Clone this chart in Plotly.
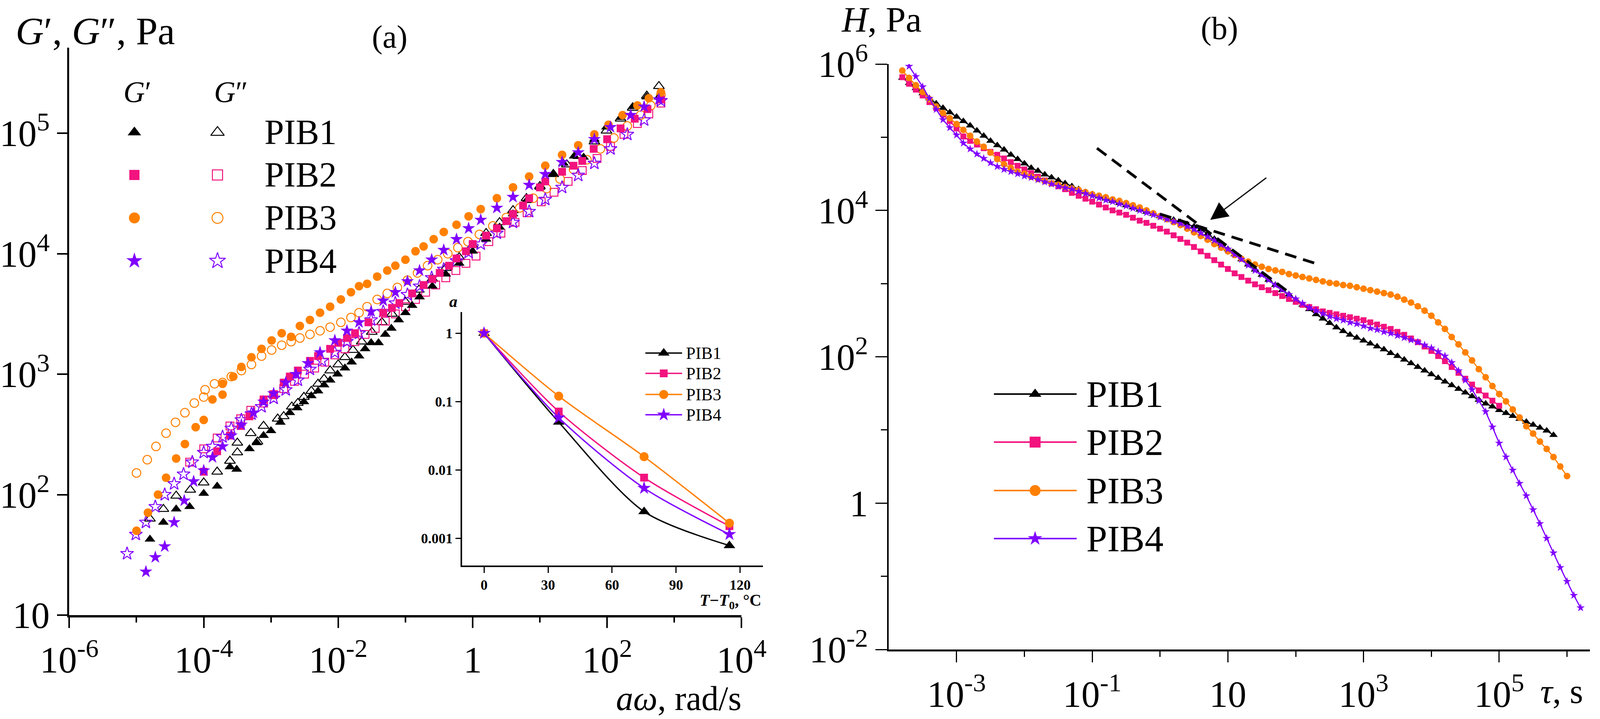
import numpy as np
import plotly.graph_objects as go

W, H = 4274, 1841
FONT = "Liberation Serif"

BLACK = "#000000"
PINK = "#F2137E"
ORANGE = "#FF8000"
PURPLE = "#8000FF"

samples = ["PIB1", "PIB2", "PIB3", "PIB4"]
colors = [BLACK, PINK, ORANGE, PURPLE]

# ---------------- panel (a): G', G'' vs a*omega (log10 values)
w_gp_pib1 = [-4.80, -4.60, -4.41, -4.21, -4.00, -3.80, -3.61, -3.51, -3.32, -3.21, -3.11, -3.00,
             -2.86, -2.72, -2.61, -2.51, -2.40, -2.30, -2.21, -2.12, -2.01, -1.90, -1.80, -1.69,
             -1.60, -1.51, -1.40, -1.30, -1.21, -1.10, -1.00, -0.90, -0.79, -0.60, -0.40, -0.20,
             0.00, 0.20, 0.40, 0.60, 0.80, 1.00, 1.20, 1.35, 1.51, 1.65, 1.81, 1.99, 2.20, 2.38,
             2.59, 2.77]
gp_pib1 = [1.63, 1.77, 1.88, 1.90, 2.01, 2.07, 2.23, 2.21, 2.38, 2.43, 2.49, 2.53,
           2.60, 2.68, 2.72, 2.77, 2.82, 2.86, 2.91, 2.95, 3.00, 3.05, 3.10, 3.15,
           3.21, 3.26, 3.26, 3.33, 3.38, 3.45, 3.51, 3.57, 3.64, 3.73, 3.83, 3.92,
           4.02, 4.12, 4.22, 4.33, 4.44, 4.55, 4.66, 4.75, 4.81, 4.80, 4.95, 5.05, 5.13, 5.22,
           5.30, 5.30]
w_gpp_pib1 = [-4.80, -4.60, -4.41, -4.20, -4.00, -3.80, -3.61, -3.50, -3.50, -3.30, -3.20, -3.11,
              -2.90, -2.81, -2.69, -2.60, -2.51, -2.40, -2.30, -2.21, -2.12, -2.00, -1.90, -1.78,
              -1.65, -1.50, -1.35, -1.20, -1.00, -0.80, -0.60, -0.40, -0.20, 0.00, 0.20, 0.40,
              0.60, 0.80, 1.00, 1.20, 1.40, 1.57, 1.81, 1.99, 2.20, 2.38, 2.59, 2.77]
gpp_pib1 = [1.80, 1.88, 1.99, 2.04, 2.10, 2.19, 2.28, 2.35, 2.43, 2.51, 2.44, 2.57,
            2.63, 2.65, 2.73, 2.76, 2.81, 2.86, 2.92, 2.96, 3.03, 3.08, 3.14, 3.20,
            3.27, 3.35, 3.43, 3.50, 3.60, 3.70, 3.79, 3.88, 3.97, 4.07, 4.17, 4.26,
            4.36, 4.46, 4.56, 4.66, 4.74, 4.81, 4.93, 5.02, 5.12, 5.21, 5.31, 5.39]

w_gp_pib2 = [-4.00, -3.80, -3.61, -3.45, -3.32, -3.11, -2.96, -2.81, -2.72, -2.60, -2.42, -2.30,
             -2.12, -2.00, -1.87, -1.75, -1.55, -1.33, -1.20, -1.09, -0.90, -0.73, -0.60, -0.49,
             -0.35, -0.24, -0.10, 0.00, 0.20, 0.36, 0.50, 0.60, 0.75, 0.84, 1.00, 1.08, 1.33,
             1.50, 1.63, 1.80, 2.00, 2.20, 2.41, 2.60, 2.80]
gp_pib2 = [2.19, 2.36, 2.49, 2.57, 2.65, 2.79, 2.83, 2.93, 2.98, 3.03, 3.11, 3.15,
           3.21, 3.26, 3.30, 3.34, 3.43, 3.51, 3.55, 3.59, 3.67, 3.74, 3.79, 3.84,
           3.90, 3.96, 4.02, 4.08, 4.15, 4.21, 4.27, 4.33, 4.40, 4.46, 4.55, 4.60, 4.68,
           4.73, 4.77, 4.87, 4.95, 5.04, 5.12, 5.20, 5.28]
w_gpp_pib2 = [-4.21, -4.00, -3.80, -3.61, -3.45, -3.30, -3.11, -2.96, -2.81, -2.65, -2.50, -2.35,
              -2.20, -2.05, -1.90, -1.75, -1.60, -1.45, -1.30, -1.15, -1.00, -0.85, -0.70, -0.55,
              -0.40, -0.25, -0.10, 0.05, 0.24, 0.42, 0.63, 0.81, 1.02, 1.21, 1.42, 1.63, 1.85,
              2.05, 2.25, 2.45, 2.62, 2.80]
gpp_pib2 = [2.27, 2.38, 2.47, 2.57, 2.63, 2.70, 2.76, 2.83, 2.88, 2.94, 3.00, 3.05,
            3.10, 3.16, 3.21, 3.27, 3.33, 3.38, 3.44, 3.50, 3.56, 3.62, 3.68, 3.74,
            3.80, 3.86, 3.92, 3.98, 4.10, 4.17, 4.26, 4.34, 4.43, 4.51, 4.60, 4.69, 4.79,
            4.89, 4.99, 5.08, 5.16, 5.25]

w_gp_pib3 = [-5.00, -4.83, -4.68, -4.56, -4.41, -4.28, -4.12, -4.00, -3.87, -3.72, -3.72, -3.56,
             -3.44, -3.29, -3.14, -2.99, -2.84, -2.70, -2.57, -2.42, -2.27, -2.12, -1.96, -1.81,
             -1.69, -1.57, -1.42, -1.27, -1.15, -1.00, -0.85, -0.73, -0.58, -0.43, -0.24, -0.06,
             0.12, 0.36, 0.60, 0.84, 1.08, 1.33, 1.57, 1.81, 2.02, 2.23, 2.45, 2.62, 2.80]
gp_pib3 = [1.70, 1.85, 2.00, 2.14, 2.30, 2.42, 2.56, 2.62, 2.79, 2.83, 2.92, 2.98,
           3.06, 3.14, 3.21, 3.28, 3.34, 3.31, 3.40, 3.45, 3.51, 3.56, 3.62, 3.68,
           3.73, 3.75, 3.81, 3.86, 3.90, 3.95, 4.02, 4.06, 4.12, 4.18, 4.24, 4.31,
           4.37, 4.46, 4.55, 4.64, 4.73, 4.82, 4.90, 4.99, 5.07, 5.15, 5.23, 5.29, 5.34]
w_gpp_pib3 = [-5.00, -4.84, -4.71, -4.56, -4.42, -4.28, -4.14, -4.00, -3.98, -3.84, -3.72, -3.59,
              -3.44, -3.29, -3.14, -2.99, -2.84, -2.70, -2.57, -2.42, -2.27, -2.12, -1.96, -1.81,
              -1.69, -1.57, -1.42, -1.27, -1.12, -0.97, -0.82, -0.67, -0.52, -0.37, -0.22, -0.07,
              0.10, 0.30, 0.50, 0.70, 0.90, 1.10, 1.30, 1.50, 1.70, 1.90, 2.10, 2.30, 2.50, 2.65,
              2.80]
gpp_pib3 = [2.18, 2.29, 2.40, 2.51, 2.60, 2.68, 2.76, 2.81, 2.87, 2.92, 2.93, 2.98,
            3.03, 3.08, 3.15, 3.20, 3.24, 3.27, 3.30, 3.33, 3.36, 3.39, 3.43, 3.47,
            3.51, 3.56, 3.62, 3.67, 3.72, 3.78, 3.84, 3.90, 3.95, 4.00, 4.05, 4.10,
            4.16, 4.23, 4.30, 4.38, 4.46, 4.54, 4.62, 4.70, 4.78, 4.87, 4.96, 5.06, 5.15, 5.23,
            5.32]

w_gp_pib4 = [-4.86, -4.72, -4.58, -4.44, -4.29, -4.15, -4.00, -3.87, -3.72, -3.59, -3.44, -3.26,
             -3.11, -2.96, -2.78, -2.63, -2.45, -2.27, -2.05, -1.87, -1.69, -1.51, -1.33, -1.15,
             -0.97, -0.79, -0.61, -0.43, -0.24, -0.06, 0.12, 0.36, 0.60, 0.84, 1.08, 1.33, 1.57,
             1.81, 2.05, 2.35, 2.55, 2.77]
gp_pib4 = [1.36, 1.48, 1.57, 1.77, 1.95, 2.11, 2.20, 2.31, 2.40, 2.49, 2.58, 2.68,
           2.77, 2.84, 2.93, 3.00, 3.09, 3.18, 3.28, 3.36, 3.43, 3.52, 3.61, 3.68,
           3.77, 3.86, 3.95, 4.03, 4.12, 4.21, 4.28, 4.38, 4.47, 4.57, 4.66, 4.76, 4.84,
           4.95, 5.05, 5.15, 5.22, 5.28]
w_gpp_pib4 = [-5.14, -5.01, -4.86, -4.72, -4.58, -4.44, -4.30, -4.17, -4.00, -3.87, -3.72, -3.59,
              -3.44, -3.29, -3.14, -2.96, -2.78, -2.60, -2.42, -2.24, -2.05, -1.87, -1.69, -1.51,
              -1.33, -1.15, -0.97, -0.79, -0.61, -0.43, -0.24, -0.06, 0.12, 0.36, 0.60, 0.84,
              1.08, 1.33, 1.57, 1.81, 2.05, 2.30, 2.55, 2.80]
gpp_pib4 = [1.51, 1.67, 1.77, 1.90, 2.00, 2.09, 2.17, 2.27, 2.35, 2.40, 2.48, 2.55,
            2.62, 2.67, 2.73, 2.80, 2.87, 2.95, 3.04, 3.11, 3.18, 3.27, 3.34, 3.45,
            3.52, 3.59, 3.66, 3.73, 3.80, 3.87, 3.94, 4.01, 4.08, 4.17, 4.26, 4.35,
            4.45, 4.55, 4.65, 4.75, 4.87, 4.99, 5.11, 5.27]

# ---------------- inset: shift factor a vs T - T0
shift_dt = [0, 35, 75, 115]
a_pib1 = [1.0, 0.050, 0.00245, 0.00078]
a_pib2 = [1.0, 0.0714, 0.0077, 0.0015]
a_pib3 = [1.0, 0.12, 0.0156, 0.00166]
a_pib4 = [1.0, 0.058, 0.0054, 0.00114]

# ---------------- panel (b): relaxation spectrum H(tau), log10 values
tau_exp = [-3.8, -3.7, -3.6, -3.5, -3.4, -3.3, -3.2, -3.1, -3.0,
           -2.9, -2.8, -2.7, -2.6, -2.5, -2.4, -2.3, -2.2, -2.1, -2.0,
           -1.9, -1.8, -1.7, -1.6, -1.5, -1.4, -1.3, -1.2, -1.1, -1.0,
           -0.9, -0.8, -0.7, -0.6, -0.5, -0.4, -0.3, -0.2, -0.1, 0.0,
           0.1, 0.2, 0.3, 0.4, 0.5, 0.6, 0.7, 0.8, 0.9, 1.0,
           1.1, 1.2, 1.3, 1.4, 1.5, 1.6, 1.7, 1.8, 1.9, 2.0,
           2.1, 2.2, 2.3, 2.4, 2.5, 2.6, 2.7, 2.8, 2.9, 3.0,
           3.1, 3.2, 3.3, 3.4, 3.5, 3.6, 3.7, 3.8, 3.9, 4.0,
           4.1, 4.2, 4.3, 4.4, 4.5, 4.6, 4.7, 4.8, 4.9, 5.0,
           5.1, 5.2, 5.3, 5.4, 5.5, 5.6, 5.7, 5.8, 5.9, 6.0,
           6.1, 6.2]

h_pib1 = [5.81, 5.74, 5.67, 5.60, 5.53, 5.46, 5.40, 5.34, 5.28,
          5.22, 5.16, 5.09, 5.02, 4.95, 4.89, 4.83, 4.76, 4.70, 4.64,
          4.58, 4.54, 4.49, 4.45, 4.41, 4.37, 4.33, 4.29, 4.25, 4.22,
          4.19, 4.16, 4.13, 4.10, 4.07, 4.04, 4.01, 3.98, 3.95, 3.92,
          3.89, 3.87, 3.84, 3.81, 3.78, 3.74, 3.68, 3.61, 3.54, 3.47,
          3.40, 3.33, 3.26, 3.19, 3.12, 3.05, 2.98, 2.91, 2.85, 2.78,
          2.71, 2.65, 2.58, 2.52, 2.46, 2.40, 2.35, 2.30, 2.26, 2.22,
          2.18, 2.14, 2.10, 2.05, 2.01, 1.96, 1.91, 1.86, 1.81, 1.76,
          1.71, 1.66, 1.61, 1.56, 1.51, 1.46, 1.41, 1.36, 1.32, 1.27,
          1.23, 1.19, 1.15, 1.11, 1.07, 1.03, 0.99, 0.93]
h_pib2 = [5.82, 5.73, 5.65, 5.57, 5.48, 5.40, 5.31, 5.22, 5.12,
          5.01, 4.95, 4.90, 4.85, 4.80, 4.76, 4.71, 4.66, 4.61, 4.56,
          4.51, 4.46, 4.41, 4.37, 4.33, 4.29, 4.24, 4.20, 4.16, 4.12,
          4.08, 4.04, 4.00, 3.97, 3.94, 3.90, 3.86, 3.83, 3.79, 3.75,
          3.71, 3.66, 3.61, 3.56, 3.50, 3.44, 3.38, 3.32, 3.26, 3.20,
          3.14, 3.09, 3.04, 2.99, 2.95, 2.91, 2.87, 2.83, 2.79, 2.75,
          2.71, 2.68, 2.65, 2.62, 2.60, 2.58, 2.56, 2.54, 2.52, 2.50,
          2.47, 2.44, 2.41, 2.38, 2.34, 2.30, 2.25, 2.20, 2.14, 2.08,
          2.01, 1.94, 1.86, 1.78, 1.70, 1.62, 1.54, 1.47, 1.40, 1.33]
h_pib3 = [5.91, 5.81, 5.71, 5.62, 5.52, 5.42, 5.33, 5.26, 5.18,
          5.10, 5.02, 4.94, 4.87, 4.79, 4.70, 4.63, 4.58, 4.53, 4.50,
          4.46, 4.43, 4.40, 4.37, 4.35, 4.32, 4.30, 4.28, 4.25, 4.22,
          4.20, 4.18, 4.15, 4.13, 4.10, 4.07, 4.04, 4.00, 3.96, 3.92,
          3.88, 3.84, 3.80, 3.75, 3.70, 3.65, 3.60, 3.54, 3.49, 3.44,
          3.39, 3.34, 3.30, 3.26, 3.23, 3.20, 3.18, 3.16, 3.13, 3.11,
          3.09, 3.07, 3.05, 3.03, 3.01, 3.00, 2.98, 2.97, 2.95, 2.93,
          2.91, 2.89, 2.87, 2.85, 2.82, 2.78, 2.74, 2.69, 2.63, 2.56,
          2.47, 2.38, 2.27, 2.17, 2.06, 1.95, 1.83, 1.72, 1.60, 1.49,
          1.39, 1.28, 1.17, 1.05, 0.95, 0.84, 0.74, 0.63, 0.50, 0.37]
h_pib4 = [5.97, 5.83, 5.69, 5.53, 5.38, 5.24, 5.13, 5.03,
          4.92, 4.84, 4.77, 4.71, 4.65, 4.60, 4.56, 4.53, 4.50, 4.47,
          4.45, 4.42, 4.39, 4.36, 4.33, 4.31, 4.29, 4.26, 4.23, 4.20,
          4.17, 4.14, 4.12, 4.09, 4.06, 4.03, 4.00, 3.97, 3.94, 3.91,
          3.88, 3.85, 3.82, 3.78, 3.74, 3.69, 3.64, 3.59, 3.53, 3.47,
          3.40, 3.33, 3.25, 3.18, 3.12, 3.05, 2.98, 2.92, 2.85, 2.79,
          2.73, 2.67, 2.63, 2.59, 2.55, 2.52, 2.50, 2.47, 2.45, 2.42,
          2.39, 2.37, 2.34, 2.32, 2.29, 2.26, 2.23, 2.20, 2.16, 2.12,
          2.07, 2.01, 1.92, 1.81, 1.68, 1.55, 1.40, 1.25, 1.04, 0.82,
          0.63, 0.45, 0.27, 0.10, -0.09, -0.28, -0.48, -0.68, -0.88, -1.07,
          -1.26, -1.43]
tau_first = [0, 0, 0, 1]  # index in tau_exp where each series starts

# tangent lines (log10 tau, log10 H) and arrow tip
steep_tau = [-0.93, 1.90]
steep_h = [4.85, 2.88]
flat_tau = [0.0, 2.31]
flat_h = [3.95, 3.27]
arrow_tip = (0.74, 3.87)


def fx(px):
    return px / W


def fy(py):
    return 1 - py / H


fig = go.Figure()

# ---- panel (a) scatter
w_gp = [w_gp_pib1, w_gp_pib2, w_gp_pib3, w_gp_pib4]
gp = [gp_pib1, gp_pib2, gp_pib3, gp_pib4]
w_gpp = [w_gpp_pib1, w_gpp_pib2, w_gpp_pib3, w_gpp_pib4]
gpp = [gpp_pib1, gpp_pib2, gpp_pib3, gpp_pib4]
symbols = ["triangle-up", "square", "circle", "star"]
size_a = [24, 20, 22, 25]

for i in range(4):
    fig.add_trace(go.Scatter(
        x=10 ** np.array(w_gpp[i]), y=10 ** np.array(gpp[i]), mode="markers",
        marker=dict(symbol=symbols[i] + "-open", size=size_a[i], color=colors[i],
                    line=dict(width=2.5, color=colors[i])),
        xaxis="x", yaxis="y"))
for i in range(4):
    fig.add_trace(go.Scatter(
        x=10 ** np.array(w_gp[i]), y=10 ** np.array(gp[i]), mode="markers",
        marker=dict(symbol=symbols[i], size=size_a[i], color=colors[i], line=dict(width=0)),
        xaxis="x", yaxis="y"))

# ---- inset
a_vals = [a_pib1, a_pib2, a_pib3, a_pib4]
size_in = [26, 20, 23, 26]
for i in range(4):
    fig.add_trace(go.Scatter(
        x=shift_dt, y=a_vals[i], mode="lines+markers",
        line=dict(color=colors[i], width=3.5, shape="spline", smoothing=0.8),
        marker=dict(symbol=symbols[i], size=size_in[i], color=colors[i]),
        xaxis="x3", yaxis="y3"))

# ---- panel (b)
h_vals = [h_pib1, h_pib2, h_pib3, h_pib4]
size_b = [19, 15, 17, 16]
for i in range(4):
    t = tau_exp[tau_first[i]:tau_first[i] + len(h_vals[i])]
    fig.add_trace(go.Scatter(
        x=10 ** np.array(t), y=10 ** np.array(h_vals[i]), mode="lines+markers",
        line=dict(color=colors[i], width=3),
        marker=dict(symbol=symbols[i], size=size_b[i], color=colors[i]),
        xaxis="x2", yaxis="y2"))

for tt, hh in [(steep_tau, steep_h), (flat_tau, flat_h)]:
    fig.add_trace(go.Scatter(
        x=10 ** np.array(tt), y=10 ** np.array(hh), mode="lines",
        line=dict(color="black", width=7, dash="30px,18px"),
        xaxis="x2", yaxis="y2"))

fig.add_annotation(x=arrow_tip[0], y=arrow_tip[1], xref="x2", yref="y2", text="",
                   showarrow=True, ax=145, ay=-109, arrowhead=2, arrowsize=3,
                   arrowwidth=3, arrowcolor="black")

# ---- legends (drawn on a hidden pixel-space overlay axis)
leg_a_rows = [339, 448, 558, 668]
leg_b_rows = [1009, 1132, 1256, 1379]
leg_in_rows = [904, 956, 1010, 1062]
for i in range(4):
    fig.add_trace(go.Scatter(
        x=[359], y=[leg_a_rows[i]], mode="markers",
        marker=dict(symbol=symbols[i], size=size_a[i] + 6, color=colors[i]),
        xaxis="x4", yaxis="y4"))
    fig.add_trace(go.Scatter(
        x=[581], y=[leg_a_rows[i]], mode="markers",
        marker=dict(symbol=symbols[i] + "-open", size=size_a[i] + 6, color=colors[i],
                    line=dict(width=2.5, color=colors[i])),
        xaxis="x4", yaxis="y4"))
    fig.add_trace(go.Scatter(
        x=[2655, 2876], y=[leg_b_rows[i]] * 2, mode="lines",
        line=dict(color=colors[i], width=4), xaxis="x4", yaxis="y4"))
    fig.add_trace(go.Scatter(
        x=[2765], y=[leg_b_rows[i]], mode="markers",
        marker=dict(symbol=symbols[i], size=28, color=colors[i]),
        xaxis="x4", yaxis="y4"))
    fig.add_trace(go.Scatter(
        x=[1724, 1822], y=[leg_in_rows[i]] * 2, mode="lines",
        line=dict(color=colors[i], width=3.5),
        xaxis="x4", yaxis="y4"))
    fig.add_trace(go.Scatter(
        x=[1773], y=[leg_in_rows[i]], mode="markers",
        marker=dict(symbol=symbols[i], size=size_in[i], color=colors[i]),
        xaxis="x4", yaxis="y4"))


def label(text, x, y, size, xanchor="center", yanchor="middle"):
    fig.add_annotation(text=text, x=fx(x), y=fy(y), xref="paper", yref="paper",
                       xanchor=xanchor, yanchor=yanchor, showarrow=False,
                       font=dict(family=FONT, size=size, color="black"))


label("<i>G</i>′", 367, 235, 76)
label("<i>G</i>″", 617, 235, 76)
for i in range(4):
    label(samples[i], 704, leg_a_rows[i], 90, xanchor="left")
    label(samples[i], 2900, leg_b_rows[i], 96, xanchor="left")
    label(samples[i], 1830, leg_in_rows[i], 44, xanchor="left")

label("<i>G</i>′, <i>G</i>″, Pa", 40, 80, 100, xanchor="left")
label("(a)", 1041, 94, 82)
label("<i>aω</i>, rad/s", 1983, 1788, 88, xanchor="right")
label("<i>H</i>, Pa", 2245, 50, 92, xanchor="left")
label("(b)", 3258, 73, 82)
label("<i>τ</i>, s", 4112, 1770, 88, xanchor="left")
label("<b><i>a</i></b>", 1211, 772, 42)
label("<b><i>T</i>−<i>T</i><sub>0</sub>, °C</b>", 2036, 1540, 42, xanchor="right")

# ---- axes
axis_common = dict(showgrid=False, zeroline=False, showline=True, linecolor="black",
                   ticks="outside", tickcolor="black", mirror=False, automargin=False)
tick_font = dict(family=FONT, size=95, color="black")
sup = lambda e: "10<sup>%s</sup>" % e

fig.update_layout(
    width=W, height=H, autosize=False,
    margin=dict(l=0, r=0, t=0, b=0, pad=0, autoexpand=False),
    paper_bgcolor="white", plot_bgcolor="rgba(0,0,0,0)", showlegend=False,
    font=dict(family=FONT, color="black"),
    xaxis=dict(axis_common, type="log", domain=[fx(185), fx(1981)], range=[-6, 4], anchor="y",
               linewidth=6, tickwidth=4, ticklen=27, tickfont=tick_font,
               tickvals=[1e-6, 1e-4, 1e-2, 1, 1e2, 1e4],
               ticktext=[sup("-6"), sup("-4"), sup("-2"), "1", sup("2"), sup("4")],
               minor=dict(ticks="outside", tickvals=[1e-5, 1e-3, 1e-1, 10, 1e3],
                          ticklen=13, tickwidth=4, tickcolor="black")),
    yaxis=dict(axis_common, type="log", domain=[fy(1575), fy(122)], range=[1, 5.71], anchor="x",
               linewidth=5, tickwidth=4, ticklen=26, tickfont=tick_font,
               tickvals=[10, 1e2, 1e3, 1e4, 1e5],
               ticktext=["10", sup("2"), sup("3"), sup("4"), sup("5")]),
    xaxis2=dict(axis_common, type="log", domain=[fx(2374), fx(4247)], range=[-4, 6.337],
                anchor="y2", linewidth=5, tickwidth=3, ticklen=28, tickfont=tick_font,
                tickvals=[1e-3, 1e-1, 10, 1e3, 1e5],
                ticktext=[sup("-3"), sup("-1"), "10", sup("3"), sup("5")],
                minor=dict(ticks="outside", tickvals=[1e-2, 1, 1e2, 1e4, 1e6],
                           ticklen=14, tickwidth=3, tickcolor="black")),
    yaxis2=dict(axis_common, type="log", domain=[fy(1663), fy(164)], range=[-2, 6],
                anchor="x2", linewidth=4, tickwidth=3, ticklen=30, tickfont=tick_font,
                tickvals=[1e-2, 1, 1e2, 1e4, 1e6],
                ticktext=[sup("-2"), "1", sup("2"), sup("4"), sup("6")],
                minor=dict(ticks="outside", tickvals=[1e-1, 10, 1e3, 1e5],
                           ticklen=16, tickwidth=3, tickcolor="black")),
    xaxis3=dict(axis_common, domain=[fx(1234), fx(2038)], range=[-10.35, 130.7], anchor="y3",
                linewidth=3.5, tickwidth=3, ticklen=15,
                tickfont=dict(family=FONT, size=36, color="black", weight="bold"),
                tickvals=[0, 30, 60, 90, 120]),
    yaxis3=dict(axis_common, type="log", domain=[fy(1448), fy(799)], range=[-3.4, 0.31],
                anchor="x3", linewidth=3.5, tickwidth=3, ticklen=13,
                tickfont=dict(family=FONT, size=36, color="black", weight="bold"),
                tickvals=[1, 0.1, 0.01, 0.001], ticktext=["1", "0.1", "0.01", "0.001"]),
    xaxis4=dict(domain=[0, 1], range=[0, W], visible=False, anchor="y4", fixedrange=True),
    yaxis4=dict(domain=[0, 1], range=[H, 0], visible=False, anchor="x4", fixedrange=True),
)

# page has no body margin / scrollbars, and the figure is fitted to the actual window
fit_page = """
document.documentElement.style.margin = '0';
document.documentElement.style.overflow = 'hidden';
document.body.style.margin = '0';
document.body.style.overflow = 'hidden';
var gd = document.getElementById('{plot_id}');
Plotly.relayout(gd, {width: window.innerWidth, height: window.innerHeight});
"""

fig.write_html("out.html", post_script=fit_page, config={"displayModeBar": False})
